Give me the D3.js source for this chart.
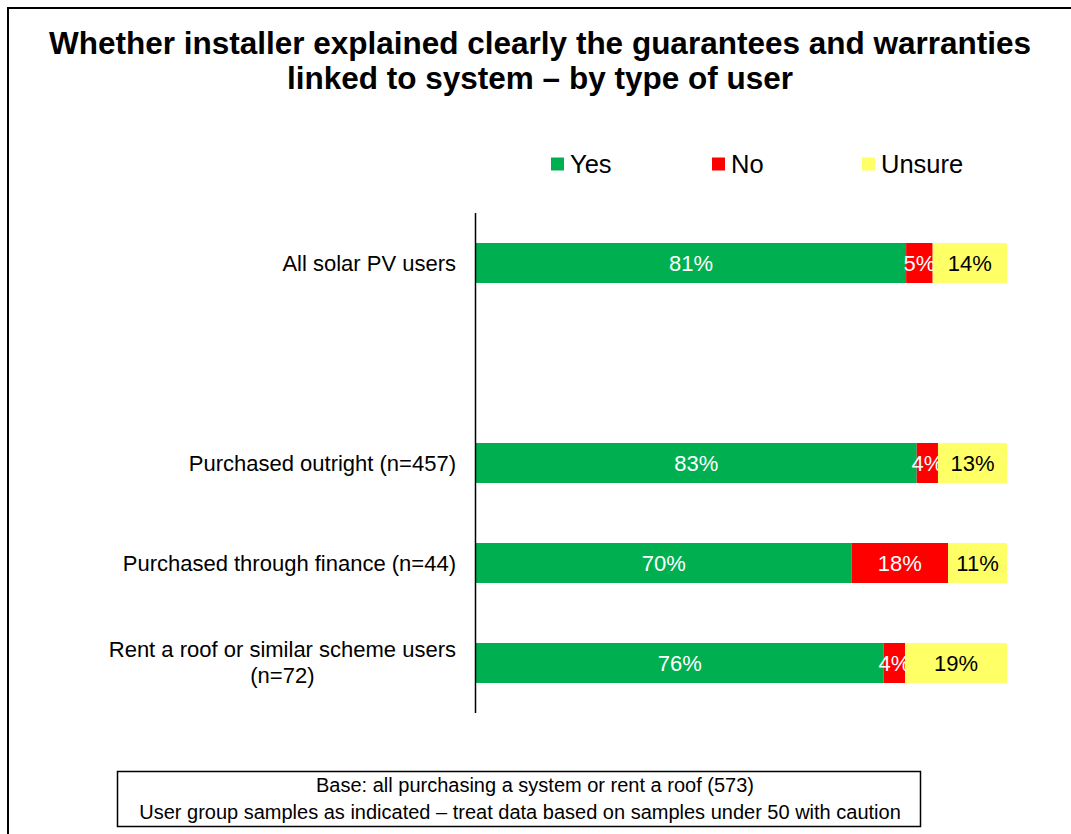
<!DOCTYPE html>
<html>
<head>
<meta charset="utf-8">
<script src="https://cdn.jsdelivr.net/npm/d3@7"></script>
<style>
  html, body { margin: 0; padding: 0; background: #fff; }
  svg { display: block; font-family: "Liberation Sans", Arial, sans-serif; }
</style>
</head>
<body>
<svg id="chart" width="1071" height="834"></svg>
<script>
// Survey groups (top to bottom); the empty entry leaves a gap after the overall row
const categories = [
  ["All solar PV users"],
  [],
  ["Purchased outright (n=457)"],
  ["Purchased through finance (n=44)"],
  ["Rent a roof or similar scheme users", "(n=72)"]
];
const seriesNames = ["Yes", "No", "Unsure"];
const yesValues    = [81, null, 83, 70, 76];
const noValues     = [5,  null, 4,  18, 4];
const unsureValues = [14, null, 13, 11, 19];
const seriesColors = ["#00B050", "#FF0000", "#FFFF66"];
const labelColors  = ["#ffffff", "#ffffff", "#000000"];
const titleLines = [
  "Whether installer explained clearly the guarantees and warranties",
  "linked to system \u2013 by type of user"
];
const noteLines = [
  "Base: all purchasing a system or rent a roof (573)",
  "User group samples as indicated \u2013 treat data based on samples under 50 with caution"
];

const svg = d3.select("#chart");
const W = 1071, H = 834;

// outer frame
svg.append("rect")
  .attr("x", 8).attr("y", 8).attr("width", W + 10).attr("height", H + 10)
  .attr("fill", "none").attr("stroke", "#000").attr("stroke-width", 2);

// title
svg.append("g").selectAll("text").data(titleLines).join("text")
  .attr("x", 540).attr("y", (d, i) => 54 + i * 35)
  .attr("text-anchor", "middle")
  .attr("font-size", 31.5).attr("font-weight", "bold").attr("fill", "#000")
  .text(d => d);

// legend
const legendX = [551, 712, 862];
const legend = svg.append("g").selectAll("g").data(seriesNames).join("g")
  .attr("transform", (d, i) => `translate(${legendX[i]},164)`);
legend.append("rect")
  .attr("x", 0).attr("y", -6.5).attr("width", 13).attr("height", 13)
  .attr("fill", (d, i) => seriesColors[i]);
legend.append("text")
  .attr("x", 19).attr("y", 9)
  .attr("font-size", 25.5).attr("fill", "#000")
  .text(d => d);

// scales: each row is shown as a share of its own total (100% stacked)
const x = d3.scaleLinear().domain([0, 1]).range([476, 1007]);
const y = d3.scaleBand().domain(d3.range(categories.length)).range([213, 713]).paddingInner(0.6).paddingOuter(0.3);

// stacked rows
const rows = categories.map((c, i) => ({
  i, values: [yesValues[i], noValues[i], unsureValues[i]]
})).filter(r => r.values[0] !== null);

const bars = svg.append("g");
rows.forEach(r => {
  const total = d3.sum(r.values);
  let acc = 0;
  r.values.forEach((v, s) => {
    const x0 = x(acc / total), x1 = x((acc + v) / total);
    bars.append("rect")
      .attr("x", x0).attr("y", y(r.i))
      .attr("width", x1 - x0).attr("height", y.bandwidth())
      .attr("fill", seriesColors[s]);
    bars.append("text")
      .attr("x", (x0 + x1) / 2).attr("y", y(r.i) + y.bandwidth() / 2 + 8)
      .attr("text-anchor", "middle")
      .attr("font-size", 22).attr("fill", labelColors[s])
      .text(v + "%");
    acc += v;
  });
});

// vertical category axis line
svg.append("line")
  .attr("x1", 475.5).attr("x2", 475.5).attr("y1", 213).attr("y2", 713)
  .attr("stroke", "#000").attr("stroke-width", 1.5);

// category labels
const catG = svg.append("g");
categories.forEach((lines, i) => {
  if (!lines.length) return;
  const cy = y(i) + y.bandwidth() / 2;
  if (lines.length === 1) {
    catG.append("text")
      .attr("x", 456).attr("y", cy + 8)
      .attr("text-anchor", "end").attr("font-size", 22).attr("fill", "#000")
      .text(lines[0]);
  } else {
    const t = catG.append("text").attr("font-size", 22).attr("fill", "#000")
      .attr("text-anchor", "middle");
    lines.forEach((l, k) => {
      t.append("tspan").attr("y", cy - 6 + k * 26).text(l);
    });
    // centre the block so its widest line ends at the label edge
    const wMax = d3.max(t.selectAll("tspan").nodes(), n => n.getComputedTextLength());
    t.selectAll("tspan").attr("x", 456 - wMax / 2);
  }
});

// base note box
svg.append("rect")
  .attr("x", 117.5).attr("y", 771.5).attr("width", 803).attr("height", 55)
  .attr("fill", "#fff").attr("stroke", "#000").attr("stroke-width", 1.5);
const noteX = [535, 520];
svg.append("g").selectAll("text").data(noteLines).join("text")
  .attr("x", (d, i) => noteX[i]).attr("y", (d, i) => 792 + i * 27)
  .attr("text-anchor", "middle").attr("font-size", 20).attr("fill", "#000")
  .text(d => d);
</script>
</body>
</html>
